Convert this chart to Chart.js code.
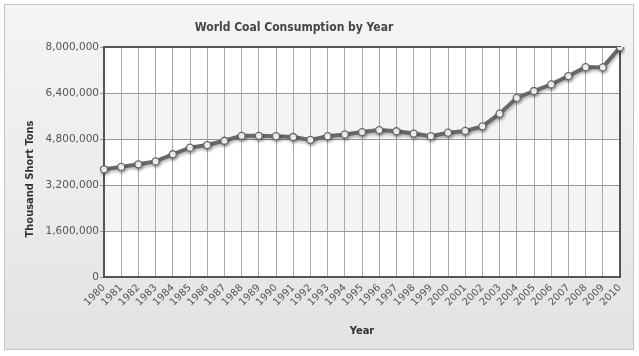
<!DOCTYPE html>
<html>
<head>
<meta charset="utf-8">
<script src="https://cdn.jsdelivr.net/npm/chart.js@4.4.1/dist/chart.umd.min.js"></script>
<style>
  html, body { margin: 0; padding: 0; background: #ffffff; }
  #wrap { position: relative; width: 639px; height: 356px; overflow: hidden; }
  #box { position: absolute; left: 4px; top: 4px; width: 628px; height: 344px;
         border: 1px solid #c4c4c4;
         background: linear-gradient(to bottom, #f4f4f4 0%, #ebebeb 60%, #e2e2e2 100%); }
  #c { position: absolute; left: 0; top: 0; }
</style>
</head>
<body>
<div id="wrap">
  <div id="box"></div>
  <canvas id="c" width="639" height="356"></canvas>
</div>
<script>
const chartTitle = "World Coal Consumption by Year";
const xTitle = "Year";
const yTitle = "Thousand Short Tons";
const years = ["1980","1981","1982","1983","1984","1985","1986","1987","1988","1989",
  "1990","1991","1992","1993","1994","1995","1996","1997","1998","1999",
  "2000","2001","2002","2003","2004","2005","2006","2007","2008","2009","2010"];
const consumption = [3746000, 3830000, 3920000, 4020000, 4270000, 4500000, 4590000, 4740000, 4910000, 4910000,
  4900000, 4870000, 4770000, 4900000, 4960000, 5040000, 5110000, 5070000, 4990000, 4900000,
  5020000, 5080000, 5240000, 5680000, 6230000, 6470000, 6700000, 6990000, 7300000, 7290000, 7990000];
const yMin = 0, yMax = 8000000, yStep = 1600000;

const FONT = "'DejaVu Sans', Verdana, sans-serif";
const CFONT = "'DejaVu Sans Condensed', 'DejaVu Sans', sans-serif";

const bandsPlugin = {
  id: 'bands',
  beforeDraw(chart) {
    const { ctx, chartArea: a, scales: { y } } = chart;
    ctx.save();
    ctx.fillStyle = '#ffffff';
    ctx.fillRect(a.left, a.top, a.right - a.left, a.bottom - a.top);
    const ticks = y.ticks;
    for (let i = 0; i < ticks.length - 1; i++) {
      if (i % 2 === 1) {
        const y1 = y.getPixelForValue(ticks[i].value);
        const y2 = y.getPixelForValue(ticks[i + 1].value);
        ctx.fillStyle = '#f4f4f4';
        ctx.fillRect(a.left, y2, a.right - a.left, y1 - y2);
      }
    }
    ctx.restore();
  },
  beforeDatasetsDraw(chart) {
    const { ctx, chartArea: a } = chart;
    ctx.save();
    ctx.strokeStyle = '#555555';
    ctx.lineWidth = 2;
    ctx.strokeRect(a.left, a.top, a.right - a.left, a.bottom - a.top);
    ctx.restore();
  },
  beforeDatasetDraw(chart) {
    const ctx = chart.ctx;
    ctx.save();
    ctx.shadowColor = 'rgba(0,0,0,0.28)';
    ctx.shadowOffsetX = 1;
    ctx.shadowOffsetY = 2;
    ctx.shadowBlur = 3;
  },
  afterDatasetDraw(chart) {
    chart.ctx.restore();
  },
  afterDraw(chart) {
    const { ctx, chartArea: a } = chart;
    ctx.save();
    ctx.fillStyle = '#444444';
    ctx.font = "bold 12px " + CFONT;
    ctx.textAlign = 'center';
    ctx.textBaseline = 'middle';
    ctx.fillText(chartTitle, 294, 28);
    ctx.font = "bold 11px " + CFONT;
    ctx.fillStyle = '#333333';
    ctx.fillText(xTitle, (a.left + a.right) / 2, 331);
    ctx.translate(30, 179);
    ctx.rotate(-Math.PI / 2);
    ctx.fillText(yTitle, 0, 0);
    ctx.restore();
  }
};

new Chart(document.getElementById('c'), {
  type: 'line',
  data: {
    labels: years,
    datasets: [{
      data: consumption,
      borderColor: '#686868',
      borderWidth: 4,
      tension: 0,
      pointRadius: 3.5,
      pointBackgroundColor: '#ffffff',
      pointBorderColor: '#6a6a6a',
      pointBorderWidth: 1.3,
      fill: false
    }]
  },
  options: {
    responsive: false,
    animation: false,
    devicePixelRatio: 1,
    layout: { padding: { left: 10, right: 19, top: 47, bottom: 14 } },
    plugins: { legend: { display: false }, title: { display: false }, tooltip: { enabled: false } },
    scales: {
      x: {
        grid: { color: '#a8a8a8', lineWidth: 1, drawTicks: false },
        border: { display: false },
        ticks: { autoSkip: false, maxRotation: 45, minRotation: 45, padding: 5,
                 color: '#555555', font: { family: FONT, size: 10 } },
        afterFit(scale) { scale.height = 65; }
      },
      y: {
        min: yMin, max: yMax,
        grid: { color: '#9a9a9a', lineWidth: 1, tickLength: 4 },
        border: { display: false },
        ticks: { stepSize: yStep, padding: 1, color: '#555555',
                 font: { family: FONT, size: 10.5 },
                 callback: v => Number(v).toLocaleString('en-US') },
        afterFit(scale) { scale.width = 94; }
      }
    }
  },
  plugins: [bandsPlugin]
});
</script>
</body>
</html>
